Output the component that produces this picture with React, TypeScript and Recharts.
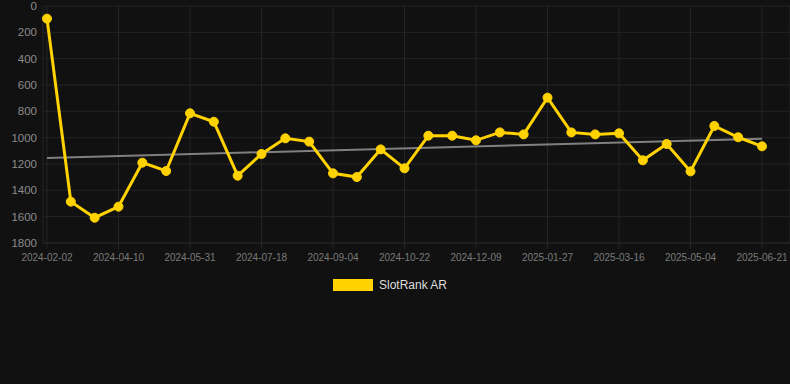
import React from "react";
import { CartesianGrid, Line, LineChart, XAxis, YAxis } from "recharts";

const dates = [
  "2024-02-02", "2024-02-20", "2024-03-08", "2024-04-10", "2024-04-27", "2024-05-14",
  "2024-05-31", "2024-06-16", "2024-07-02", "2024-07-18", "2024-08-03", "2024-08-19",
  "2024-09-04", "2024-09-20", "2024-10-06", "2024-10-22", "2024-11-07", "2024-11-23",
  "2024-12-09", "2024-12-25", "2025-01-10", "2025-01-27", "2025-02-12", "2025-02-28",
  "2025-03-16", "2025-04-01", "2025-04-17", "2025-05-04", "2025-05-20", "2025-06-05",
  "2025-06-21",
];

const rank = [
  96, 1486, 1608, 1524, 1190, 1253, 815, 879, 1289, 1124, 1005, 1030, 1271, 1299, 1089,
  1233, 985, 985, 1020, 960, 975, 696, 960, 975, 967, 1172, 1048, 1256, 911, 997, 1066,
];

// trend line: only the two ends, joined straight across
const trendStart = 1154;
const trendEnd = 1008;

const yTicks = [0, 200, 400, 600, 800, 1000, 1200, 1400, 1600, 1800];

const rows = dates.map((date, i) => ({
  date,
  rank: rank[i],
  trend: i === 0 ? trendStart : i === dates.length - 1 ? trendEnd : null,
}));

const YELLOW = "#FFD200";
const GRID = "#242424";

export default function App() {
  return (
    <div
      style={{
        position: "fixed",
        left: 0,
        top: 0,
        width: 790,
        height: 384,
        background: "#111111",
        fontFamily: "Arial, 'Liberation Sans', sans-serif",
      }}
    >
      <LineChart
        width={790}
        height={270}
        data={rows}
        margin={{ top: 6, right: 0, left: 0, bottom: 0 }}
      >
        <CartesianGrid stroke={GRID} strokeWidth={1} />
        <XAxis
          dataKey="date"
          interval={2}
          padding={{ left: 4, right: 28 }}
          height={27}
          tickSize={6}
          tickMargin={5}
          axisLine={{ stroke: GRID }}
          tickLine={{ stroke: GRID }}
          tick={{ fill: "#7a7a7a", fontSize: 10 }}
        />
        <YAxis
          reversed
          domain={[0, 1800]}
          ticks={yTicks}
          width={43}
          tickSize={0}
          tickMargin={6}
          axisLine={false}
          tickLine={false}
          tick={{ fill: "#8c8c8c", fontSize: 11.5 }}
        />
        <Line
          dataKey="trend"
          stroke="#808080"
          strokeWidth={2}
          dot={false}
          connectNulls
          isAnimationActive={false}
        />
        <Line
          dataKey="rank"
          stroke={YELLOW}
          strokeWidth={3}
          dot={{ r: 4.5, fill: YELLOW, stroke: YELLOW, strokeWidth: 1 }}
          isAnimationActive={false}
        />
      </LineChart>
      <div
        style={{
          position: "absolute",
          top: 278,
          left: 0,
          width: 780,
          display: "flex",
          justifyContent: "center",
          alignItems: "center",
          fontSize: 12,
          color: "#dddddd",
        }}
      >
        <span
          style={{
            display: "inline-block",
            width: 40,
            height: 12,
            background: YELLOW,
            marginRight: 6,
          }}
        />
        <span>SlotRank AR</span>
      </div>
    </div>
  );
}
